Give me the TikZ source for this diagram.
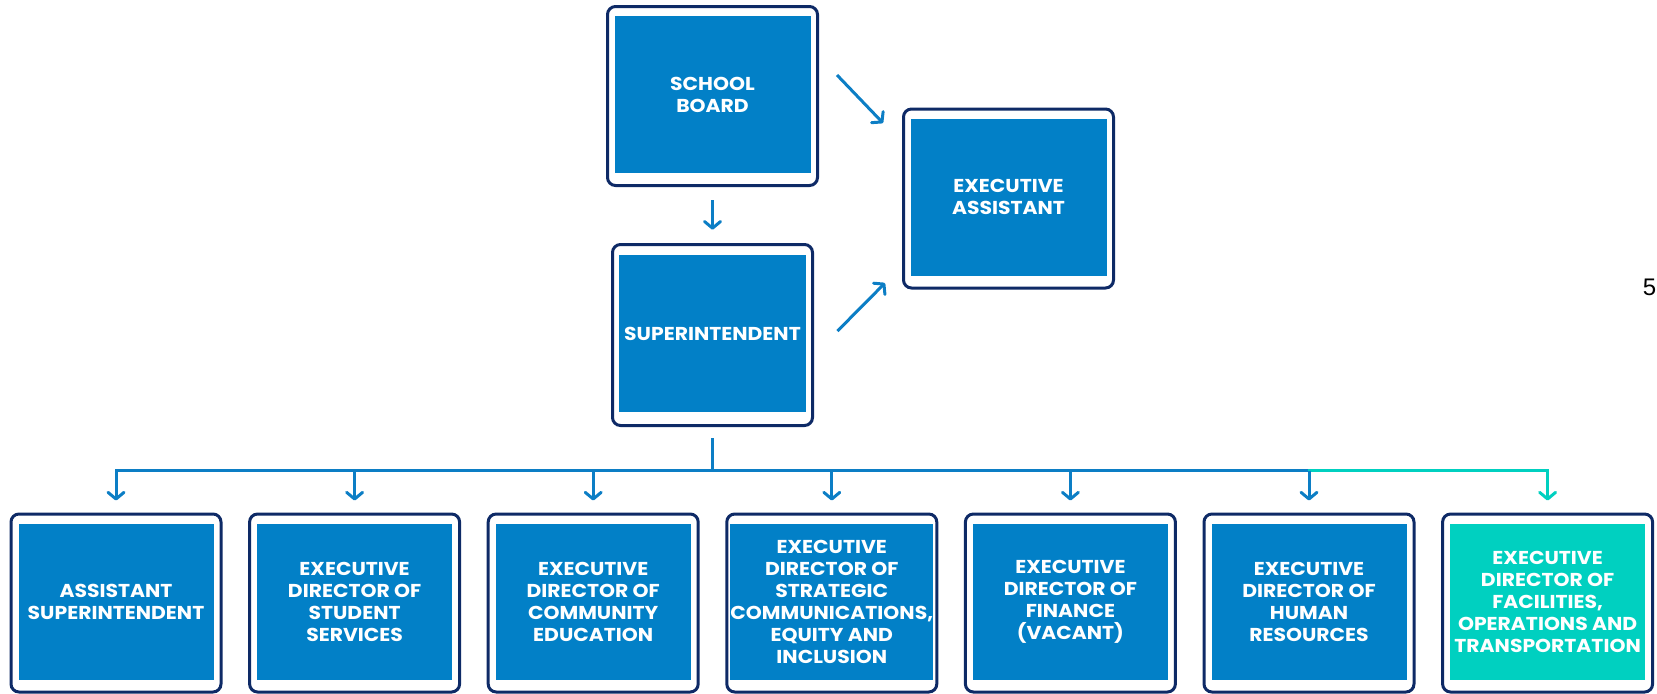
\documentclass[tikz,border=0pt]{standalone}
\usepackage{fontspec}
\setmainfont{Poppins}
\newfontfamily\cardfont{Poppins}[FakeStretch=1.09]
\newfontfamily\arialfont{Liberation Sans}
\usetikzlibrary{arrows.meta,calc}
\definecolor{boxblue}{RGB}{2,128,199}
\definecolor{boxteal}{RGB}{0,208,192}
\definecolor{navy}{RGB}{14,42,102}
\definecolor{lineblue}{RGB}{12,126,197}
\begin{document}
\begin{tikzpicture}[x=0.75pt,y=-0.75pt,
  frame/.style={draw=navy, line width=2.25pt, fill=white, rounded corners=6pt, inner sep=0pt},
  topframe/.style={frame, minimum width=157.5pt, minimum height=134.25pt},
  supframe/.style={frame, minimum width=150pt, minimum height=135.75pt},
  botframe/.style={frame, minimum width=157.5pt, minimum height=133.5pt},
  card/.style={fill=boxblue, text=white, font=\cardfont\bfseries\fontsize{14}{16.4}\selectfont, align=center, inner sep=0pt},
  topcard/.style={card, minimum width=147pt, minimum height=117.75pt},
  supcard/.style={card, minimum width=140.25pt, minimum height=117.75pt},
  botcard/.style={card, minimum width=146.25pt, minimum height=117pt},
  tealcard/.style={botcard, fill=boxteal},
  conn/.style={draw=lineblue, line width=2.25pt},
  arr/.style={conn, -{Straight Barb[length=5pt,width=12pt,round]}}
]
\useasboundingbox (0,0) rectangle (1657,693);

% top boxes
\node[topframe] (sbo) at (712.5,96) {};
\node[topcard] (sb) at (712.5,94.5) {SCHOOL\\BOARD};
\node[supframe] (supo) at (712.5,335) {};
\node[supcard] (sup) at (712.5,333.5) {SUPERINTENDENT};
\node[topframe] (eao) at (1008.5,198.5) {};
\node[topcard] (ea) at (1008.5,197) {EXECUTIVE\\ASSISTANT};

% bottom boxes
\node[botframe] (o1) at (116,603) {};
\node[botcard] (b1) at (116,602) {ASSISTANT\\SUPERINTENDENT};
\node[botframe] (o2) at (354.6,603) {};
\node[botcard] (b2) at (354.6,602) {EXECUTIVE\\DIRECTOR OF\\STUDENT\\SERVICES};
\node[botframe] (o3) at (593.2,603) {};
\node[botcard] (b3) at (593.2,602) {EXECUTIVE\\DIRECTOR OF\\COMMUNITY\\EDUCATION};
\node[botframe] (o4) at (831.8,603) {};
\node[botcard] (b4) at (831.8,602) {EXECUTIVE\\DIRECTOR OF\\STRATEGIC\\COMMUNICATIONS,\\EQUITY AND\\INCLUSION};
\node[botframe] (o5) at (1070.4,603) {};
\node[botcard] (b5) at (1070.4,602) {EXECUTIVE\\DIRECTOR OF\\FINANCE\\(VACANT)};
\node[botframe] (o6) at (1309,603) {};
\node[botcard] (b6) at (1309,602) {EXECUTIVE\\DIRECTOR OF\\HUMAN\\RESOURCES};
\node[botframe] (o7) at (1547.6,603) {};
\node[tealcard] (b7) at (1547.6,602) {EXECUTIVE\\DIRECTOR OF\\FACILITIES,\\OPERATIONS AND\\TRANSPORTATION};

% page number
\node[font=\arialfont\fontsize{18}{20}\selectfont, anchor=base, inner sep=0pt] (pg) at (1649.5,295) {5};

% connectors among top boxes
\draw[arr, shorten <=10pt, shorten >=10pt] (sbo.south) -- (supo.north);
\draw[arr] ([xshift=13.5pt,yshift=15.75pt]sbo.east) -- ([xshift=-14.25pt,yshift=56.6pt]eao.west);
\draw[arr] ([xshift=17.6pt,yshift=3pt]supo.east) -- ([xshift=-12.75pt,yshift=-63.4pt]eao.west);

% tree
\coordinate (bus) at ($(supo.south)+(0,43.5)$);
\draw[conn] ([yshift=-8.6pt]supo.south) -- (bus);
\draw[conn, line cap=rect] (o1.north |- bus) -- (o6.north |- bus);
\draw[conn, draw=boxteal, line cap=rect] (o6.north |- bus) -- (o7.north |- bus);
\foreach \i in {1,...,6}{
  \draw[arr] (o\i.north |- bus) -- ([yshift=9pt]o\i.north);
}
\draw[arr, draw=boxteal] (o7.north |- bus) -- ([yshift=9pt]o7.north);
\end{tikzpicture}
\end{document}
